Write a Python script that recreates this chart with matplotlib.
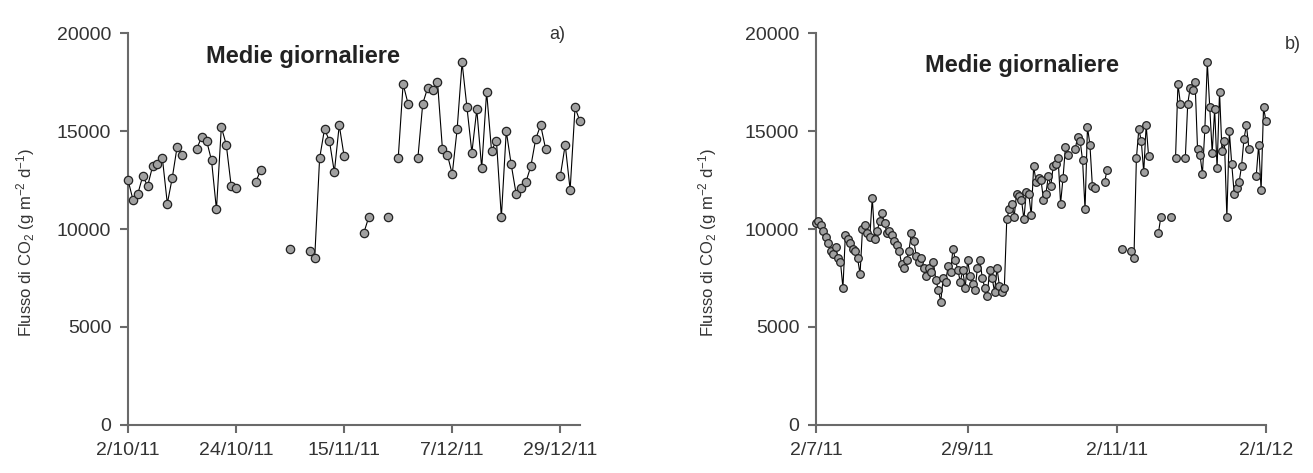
import numpy as np
import pandas as pd
import matplotlib
matplotlib.use("Agg")
import matplotlib.pyplot as plt
import matplotlib.dates as mdates
from matplotlib.ticker import FuncFormatter

plt.rcParams["font.family"] = ["Liberation Sans", "DejaVu Sans"]
plt.rcParams["mathtext.default"] = "regular"

nan = np.nan

# Daily mean CO2 flux, 2/7/11 - 1/10/11 (right panel only)
flux_jul_sep = [
    10300, 10400, 10200, 9900, 9600, 9300, 8900, 8700, 9100, 8500,
    8300, 7000, 9700, 9500, 9300, 9000, 8900, 8500, 7700, 10000,
    10200, 9800, 9600, 11600, 9500, 9900, 10400, 10800, 10300, 9800,
    9900, 9700, 9400, 9200, 8900, 8200, 8000, 8400, 8900, 9800,
    9400, 8600, 8300, 8500, 8000, 7600, 8000, 7800, 8300, 7400,
    6900, 6300, 7500, 7300, 8100, 7800, 9000, 8400, 7900, 7300,
    7900, 7000, 8400, 7600, 7200, 6900, 8000, 8400, 7500, 7000,
    6600, 7900, 7500, 6800, 8000, 7100, 6800, 7000, 10500, 11000,
    11300, 10600, 11800, 11700, 11500, 10500, 11900, 11800, 10700, 13200,
    12400, 12600,
]

# Daily mean CO2 flux, 2/10/11 - 2/1/12 (both panels)
flux_oct_jan = [
    12500, 11500, 11800, 12700, 12200, 13200, 13300, 13600, 11300, 12600,
    14200, 13800, nan, nan, 14100, 14700, 14500, 13500, 11000, 15200,
    14300, 12200, 12100, nan, nan, nan, 12400, 13000, nan, nan,
    nan, nan, nan, 9000, nan, nan, nan, 8900, 8500, 13600,
    15100, 14500, 12900, 15300, 13700, nan, nan, nan, 9800, 10600,
    nan, nan, nan, 10600, nan, 13600, 17400, 16400, nan, 13600,
    16400, 17200, 17100, 17500, 14100, 13800, 12800, 15100, 18500, 16200,
    13900, 16100, 13100, 17000, 14000, 14500, 10600, 15000, 13300, 11800,
    12100, 12400, 13200, 14600, 15300, 14100, nan, nan, 12700, 14300,
    12000, 16200, 15500,
]

dates_jul_sep = pd.date_range("2011-07-02", periods=len(flux_jul_sep), freq="D")
dates_oct_jan = pd.date_range("2011-10-02", periods=len(flux_oct_jan), freq="D")

left_ticks = ["2011-10-02", "2011-10-24", "2011-11-15", "2011-12-07", "2011-12-29"]
right_ticks = ["2011-07-02", "2011-09-02", "2011-11-02", "2012-01-02"]

ylabel = "Flusso di CO$_2$ (g m$^{-2}$ d$^{-1}$)"
title = "Medie giornaliere"

axis_col = "#6a6a6a"
text_col = "#333333"


def day_fmt(x, pos):
    d = mdates.num2date(x)
    return f"{d.day}/{d.month}/{d.year % 100}"


fig = plt.figure(figsize=(13.13, 4.73), dpi=100)
ax1 = fig.add_axes([0.0975, 0.1015, 0.3442, 0.8287])
ax2 = fig.add_axes([0.6215, 0.1015, 0.3427, 0.8287])

# left panel: Oct - Jan
ax1.plot(dates_oct_jan, flux_oct_jan, color="black", lw=0.8, marker="o",
         ms=6, mfc="#a0a0a0", mec="#222222", mew=0.9, clip_on=False, zorder=3)
ax1.set_xlim(pd.Timestamp("2011-10-02"), pd.Timestamp("2012-01-02"))
ax1.set_xticks(pd.to_datetime(left_ticks))

# right panel: Jul - Jan
dates_all = dates_jul_sep.append(dates_oct_jan)
flux_all = flux_jul_sep + flux_oct_jan
ax2.plot(dates_all, flux_all, color="black", lw=0.8, marker="o",
         ms=5.5, mfc="#a0a0a0", mec="#222222", mew=0.9, clip_on=False, zorder=3)
ax2.set_xlim(pd.Timestamp("2011-07-02"), pd.Timestamp("2012-01-02"))
ax2.set_xticks(pd.to_datetime(right_ticks))

for ax, tx, ty, tag, tagx, tagy, lx in [
    (ax1, 0.387, 0.94, "a)", 0.95, 0.995, -0.226),
    (ax2, 0.458, 0.918, "b)", 1.06, 0.97, -0.242),
]:
    ax.set_ylim(0, 20000)
    ax.set_yticks([0, 5000, 10000, 15000, 20000])
    ax.xaxis.set_major_formatter(FuncFormatter(day_fmt))
    for s in ["top", "right"]:
        ax.spines[s].set_visible(False)
    for s in ["left", "bottom"]:
        ax.spines[s].set_color(axis_col)
        ax.spines[s].set_linewidth(1.5)
    ax.tick_params(axis="both", direction="out", length=6, width=1.5,
                   color=axis_col, labelcolor=text_col, labelsize=14, pad=6)
    ax.text(tx, ty, title, transform=ax.transAxes, ha="center", va="center",
            fontsize=17, fontweight="bold", color="#222222")
    ax.text(tagx, tagy, tag, transform=ax.transAxes, ha="center", va="center",
            fontsize=13, color=text_col)
    ax.text(lx, 0.465, ylabel, transform=ax.transAxes, rotation=90,
            ha="center", va="center", fontsize=12, color=text_col)

fig.savefig("out.png", dpi=100)
